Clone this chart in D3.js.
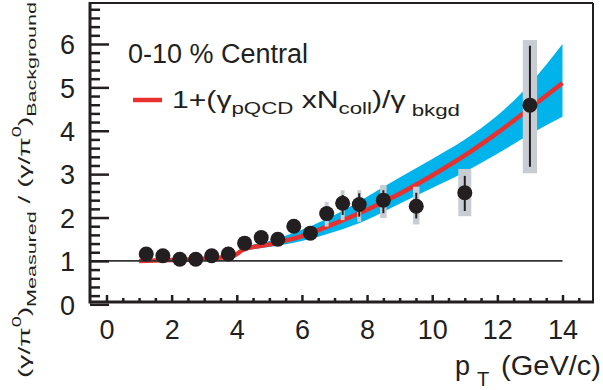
<!DOCTYPE html>
<html>
<head>
<meta charset="utf-8">
<script src="https://cdn.jsdelivr.net/npm/d3@7"></script>
<style>
body { margin: 0; background: #fff; }
svg { display: block; font-family: "Liberation Sans", Arial, sans-serif; }
</style>
</head>
<body>
<div id="chart"></div>
<script>
// measured points (pT, ratio)
var pt_x      = [1.22, 1.73, 2.25, 2.74, 3.23, 3.74, 4.24, 4.75, 5.26, 5.75, 6.26, 6.76, 7.25, 7.76, 8.5, 9.51, 11.0, 13.0];
var pt_y      = [1.16, 1.12, 1.04, 1.04, 1.12, 1.16, 1.41, 1.54, 1.50, 1.80, 1.64, 2.09, 2.33, 2.30, 2.40, 2.26, 2.57, 4.59];
var stat_lo   = [1.12, 1.08, 1.00, 1.00, 1.08, 1.12, 1.36, 1.49, 1.45, 1.74, 1.58, 1.96, 2.06, 2.02, 2.10, 1.98, 2.15, 3.17];
var stat_hi   = [1.20, 1.16, 1.08, 1.08, 1.16, 1.20, 1.46, 1.59, 1.55, 1.86, 1.70, 2.22, 2.52, 2.56, 2.63, 2.57, 2.96, 5.96];
var sys_lo    = [1.10, 1.06, 0.98, 0.98, 1.06, 1.10, 1.34, 1.46, 1.42, 1.70, 1.54, 1.79, 1.94, 1.90, 1.99, 1.84, 2.03, 3.02];
var sys_hi    = [1.22, 1.18, 1.10, 1.10, 1.18, 1.22, 1.48, 1.62, 1.58, 1.90, 1.74, 2.36, 2.63, 2.63, 2.75, 2.71, 3.12, 6.09];
var sys_dx    = [0.06, 0.06, 0.06, 0.06, 0.06, 0.06, 0.06, 0.06, 0.06, 0.06, 0.06, 0.06, 0.06, 0.06, 0.1, 0.1, 0.2, 0.22];

// pQCD expectation and its band
var th_x      = [1.0, 2.0, 3.0, 3.9, 4.2, 5.0, 6.0, 7.0, 8.0, 9.0, 10.0, 11.0, 12.0, 13.0, 14.0];
var th_mid    = [1.00, 1.02, 1.05, 1.12, 1.26, 1.38, 1.57, 1.86, 2.18, 2.55, 2.97, 3.43, 3.95, 4.52, 5.10];
var th_lo     = [1.00, 1.02, 1.05, 1.11, 1.22, 1.32, 1.46, 1.67, 1.95, 2.32, 2.68, 3.05, 3.47, 3.92, 4.32];
var th_hi     = [1.00, 1.02, 1.05, 1.13, 1.29, 1.46, 1.72, 2.06, 2.48, 2.92, 3.35, 3.80, 4.35, 5.08, 6.00];

var x_ticks   = [0, 2, 4, 6, 8, 10, 12, 14];
var y_ticks   = [0, 1, 2, 3, 4, 5, 6];

var chart_width  = 603;
var chart_height = 390;
var frame = { left: 90, right: 593, top: 3, bottom: 302 };

var svg = d3.select('#chart')
    .append('svg')
    .attr('width', chart_width)
    .attr('height', chart_height);

var x_scale = d3.scaleLinear().domain([0, 14]).range([106.5, 562.5]);
var y_scale = d3.scaleLinear().domain([0, 7]).range([304.3, 0.6]);

// band
var band = d3.area()
    .x(function(d, i){ return x_scale(th_x[i]); })
    .y0(function(d, i){ return y_scale(th_lo[i]); })
    .y1(function(d, i){ return y_scale(th_hi[i]); })
    .curve(d3.curveMonotoneX);

svg.append('path')
    .datum(th_x)
    .attr('d', band)
    .attr('fill', '#00b4eb');

var mid_line = d3.line()
    .x(function(d, i){ return x_scale(th_x[i]); })
    .y(function(d, i){ return y_scale(th_mid[i]); })
    .curve(d3.curveMonotoneX);

svg.append('path')
    .datum(th_x)
    .attr('d', mid_line)
    .attr('fill', 'none')
    .attr('stroke', '#e8312f')
    .attr('stroke-width', 4.5);

// reference line at 1
svg.append('line')
    .attr('x1', frame.left)
    .attr('x2', x_scale(14))
    .attr('y1', y_scale(1))
    .attr('y2', y_scale(1))
    .attr('stroke', '#333')
    .attr('stroke-width', 1.6);

// systematic boxes
svg.append('g').selectAll('rect')
    .data(pt_x)
    .enter()
    .append('rect')
    .attr('x', function(d, i){ return x_scale(d - sys_dx[i]); })
    .attr('width', function(d, i){ return x_scale(d + sys_dx[i]) - x_scale(d - sys_dx[i]); })
    .attr('y', function(d, i){ return y_scale(sys_hi[i]); })
    .attr('height', function(d, i){ return y_scale(sys_lo[i]) - y_scale(sys_hi[i]); })
    .attr('fill', '#c8ccd3');

// stat bars
svg.append('g').selectAll('line')
    .data(pt_x)
    .enter()
    .append('line')
    .attr('x1', function(d){ return x_scale(d); })
    .attr('x2', function(d){ return x_scale(d); })
    .attr('y1', function(d, i){ return y_scale(stat_hi[i]); })
    .attr('y2', function(d, i){ return y_scale(stat_lo[i]); })
    .attr('stroke', '#231f20')
    .attr('stroke-width', 2);

svg.append('g').selectAll('circle')
    .data(pt_x)
    .enter()
    .append('circle')
    .attr('cx', function(d){ return x_scale(d); })
    .attr('cy', function(d, i){ return y_scale(pt_y[i]); })
    .attr('r', 7.5)
    .attr('fill', '#231f20');

// axes
var x_minor = d3.range(0, 14.6, 0.5).filter(function(v){ return v % 2 !== 0; });
var x_axis_minor = d3.axisBottom(x_scale).tickValues(x_minor).tickSizeInner(-4).tickSizeOuter(0).tickFormat('');
var x_axis = d3.axisBottom(x_scale).tickValues(x_ticks).tickSizeInner(-7).tickSizeOuter(0).tickPadding(18)
    .tickFormat(d3.format('d'));

svg.append('g')
    .attr('class', 'x-axis-minor')
    .attr('transform', 'translate(0,' + frame.bottom + ')')
    .call(x_axis_minor);
svg.append('g')
    .attr('class', 'x-axis')
    .attr('transform', 'translate(0,' + frame.bottom + ')')
    .call(x_axis);

var y_minor = d3.range(0.2, 6.9, 0.2).filter(function(v){ return Math.abs(v - Math.round(v)) > 0.01; });
var y_axis_minor = d3.axisLeft(y_scale).tickValues(y_minor).tickSizeInner(-10).tickSizeOuter(0).tickFormat('');
var y_axis = d3.axisLeft(y_scale).tickValues(y_ticks).tickSizeInner(-19).tickSizeOuter(0).tickPadding(15)
    .tickFormat(d3.format('d'));

svg.append('g')
    .attr('class', 'y-axis-minor')
    .attr('transform', 'translate(' + frame.left + ',0)')
    .call(y_axis_minor);
svg.append('g')
    .attr('class', 'y-axis')
    .attr('transform', 'translate(' + frame.left + ',0)')
    .call(y_axis);

svg.selectAll('.domain').remove();
svg.selectAll('.tick line').attr('stroke', '#231f20').attr('stroke-width', 2.5);
svg.selectAll('.x-axis .tick text, .y-axis .tick text')
    .attr('fill', '#231f20')
    .style('font-size', '27px')
    .style('font-family', '"Liberation Sans", Arial, sans-serif');
svg.select('.x-axis').selectAll('.tick text').attr('dy', '0.71em');
svg.select('.y-axis').selectAll('.tick text').attr('dy', '0.36em');

// frame
svg.append('line').attr('x1', frame.left).attr('x2', frame.right).attr('y1', frame.top).attr('y2', frame.top)
    .attr('stroke', '#231f20').attr('stroke-width', 2);
svg.append('line').attr('x1', frame.right).attr('x2', frame.right).attr('y1', frame.top).attr('y2', frame.bottom)
    .attr('stroke', '#231f20').attr('stroke-width', 2);
svg.append('line').attr('x1', frame.left).attr('x2', frame.left).attr('y1', frame.top - 1).attr('y2', frame.bottom + 1.5)
    .attr('stroke', '#231f20').attr('stroke-width', 3);
svg.append('line').attr('x1', frame.left).attr('x2', frame.right + 1).attr('y1', frame.bottom).attr('y2', frame.bottom)
    .attr('stroke', '#231f20').attr('stroke-width', 3);

// axis titles
var xt = svg.append('text').attr('fill', '#231f20').style('font-size', '27px');
xt.append('tspan').attr('x', 455).attr('y', 375).text('p');
xt.append('tspan').attr('x', 477).attr('y', 386).style('font-size', '20px').text('T');
xt.append('tspan').attr('x', 501).attr('y', 375)
    .attr('textLength', 100).attr('lengthAdjust', 'spacingAndGlyphs').text('(GeV/c)');

var yt = svg.append('text')
    .attr('transform', 'translate(30,378) rotate(-90)')
    .attr('fill', '#231f20')
    .attr('textLength', 376)
    .attr('lengthAdjust', 'spacingAndGlyphs')
    .style('font-size', '17px');
yt.append('tspan').text('(\u03b3/\u03c0');
yt.append('tspan').attr('dy', -9).style('font-size', '12px').text('0');
yt.append('tspan').attr('dy', 9).text(')');
yt.append('tspan').attr('dy', 6).style('font-size', '13px').text('Measured');
yt.append('tspan').attr('dy', -6).text(' / (\u03b3/\u03c0');
yt.append('tspan').attr('dy', -9).style('font-size', '12px').text('0');
yt.append('tspan').attr('dy', 9).text(')');
yt.append('tspan').attr('dy', 6).style('font-size', '13px').text('Background');

// legend
svg.append('text')
    .attr('x', 128)
    .attr('y', 63)
    .attr('fill', '#231f20')
    .style('font-size', '27px')
    .text('0-10 % Central');

svg.append('line')
    .attr('x1', 133).attr('x2', 162)
    .attr('y1', 100).attr('y2', 100)
    .attr('stroke', '#e8312f')
    .attr('stroke-width', 4.5);

var lt = svg.append('text')
    .attr('x', 172)
    .attr('y', 108)
    .attr('fill', '#231f20')
    .attr('textLength', 288)
    .attr('lengthAdjust', 'spacingAndGlyphs')
    .style('font-size', '23px');
lt.append('tspan').text('1+(\u03b3');
lt.append('tspan').attr('dy', 6).style('font-size', '17px').text('pQCD');
lt.append('tspan').attr('dy', -6).text(' xN');
lt.append('tspan').attr('dy', 6).style('font-size', '17px').text('coll');
lt.append('tspan').attr('dy', -6).text(')/\u03b3');
lt.append('tspan').attr('dy', 8).style('font-size', '17px').text(' bkgd');
</script>
</body>
</html>
